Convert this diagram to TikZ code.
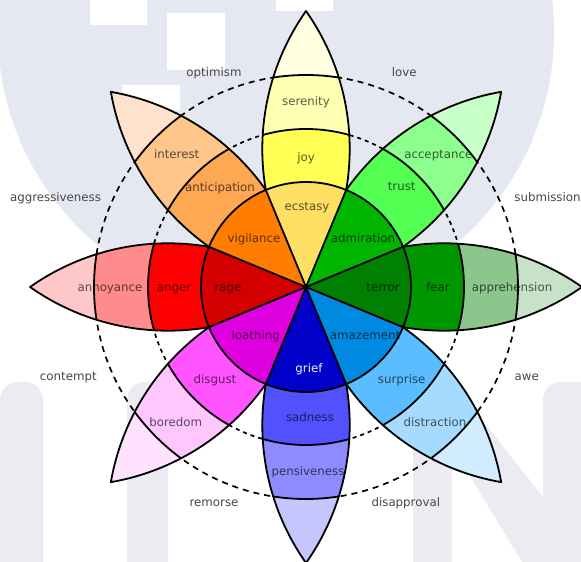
\documentclass[tikz,border=0pt]{standalone}
\usepackage{fontspec}
\setmainfont{DejaVu Sans}
\definecolor{wm}{RGB}{229,232,240}
\definecolor{wml}{RGB}{234,236,242}
% yellow
\definecolor{yA}{RGB}{255,224,100}\definecolor{yB}{RGB}{255,255,84}\definecolor{yC}{RGB}{255,255,177}\definecolor{yD}{RGB}{255,255,225}
% green
\definecolor{gA}{RGB}{0,180,0}\definecolor{gB}{RGB}{84,255,84}\definecolor{gC}{RGB}{140,255,140}\definecolor{gD}{RGB}{200,255,200}
% dark green
\definecolor{dA}{RGB}{0,128,0}\definecolor{dB}{RGB}{0,150,0}\definecolor{dC}{RGB}{140,198,140}\definecolor{dD}{RGB}{200,226,200}
% light blue
\definecolor{lA}{RGB}{0,137,224}\definecolor{lB}{RGB}{89,189,255}\definecolor{lC}{RGB}{165,219,255}\definecolor{lD}{RGB}{210,236,255}
% blue
\definecolor{bA}{RGB}{0,0,200}\definecolor{bB}{RGB}{81,81,255}\definecolor{bC}{RGB}{140,140,255}\definecolor{bD}{RGB}{198,198,255}
% purple
\definecolor{pA}{RGB}{222,0,222}\definecolor{pB}{RGB}{255,84,255}\definecolor{pC}{RGB}{255,198,255}\definecolor{pD}{RGB}{255,226,255}
% red
\definecolor{rA}{RGB}{212,0,0}\definecolor{rB}{RGB}{255,0,0}\definecolor{rC}{RGB}{255,140,140}\definecolor{rD}{RGB}{255,200,200}
% orange
\definecolor{oA}{RGB}{255,125,0}\definecolor{oB}{RGB}{255,168,84}\definecolor{oC}{RGB}{255,198,140}\definecolor{oD}{RGB}{255,226,205}

\newcommand\petal[4]{% angle, ring2, ring3, tip
 \begin{scope}[rotate=#1]
  \clip (0,0) arc[start angle=125.15,end angle=54.85,radius=239.68]
        arc[start angle=-54.85,end angle=-125.15,radius=239.68] -- cycle;
  \fill[#4] (0,0) circle[radius=300];
  \fill[#3] (0,0) circle[radius=212];
  \fill[#2] (0,0) circle[radius=158];
  \draw[edge] (0,0) circle[radius=212] (0,0) circle[radius=158];
 \end{scope}}
\newcommand\sector[2]{%
 \fill[#2] (0,0) -- (#1-22.5:105) arc[start angle=#1-22.5,end angle=#1+22.5,radius=105] -- cycle;}
\newcommand\petaledge[1]{%
 \begin{scope}[rotate=#1]
  \draw[edge] (22.5:105) arc[start angle=99.85,end angle=54.85,radius=239.68]
        arc[start angle=-54.85,end angle=-99.85,radius=239.68];
 \end{scope}}

\begin{document}
\begin{tikzpicture}[x=1pt,y=1pt,
  edge/.style={line width=1.8pt,black,line join=round},
  lab/.style={inner sep=0pt,anchor=base,yshift=-3.4pt,text=black,text opacity=0.64,
              font=\fontsize{11.8}{13}\selectfont},
  outer/.style={inner sep=0pt,anchor=base,yshift=-3.4pt,text=black!72,
              font=\fontsize{11.8}{13}\selectfont},
  dashO/.style={line width=1.7pt,dash pattern=on 6pt off 5pt},
  dashI/.style={line width=1.7pt,dash pattern=on 4pt off 4pt}]
\useasboundingbox (0,0) rectangle (581,562);
\fill[white] (0,0) rectangle (581,562);
% faint background (pixel coordinates, y downwards)
\begin{scope}[y=-1pt,yshift=562pt]
  \fill[wm] (276,32) circle[radius=278];
  \fill[white] (90,0) rectangle (147,25) (167,13) rectangle (225,70)
               (122,85) rectangle (180,110) (276,0) rectangle (333,11);
  \fill[wml,rounded corners=18pt] (0,382) rectangle (43,600);
  \fill[wml,rounded corners=18pt] (127,382) rectangle (168,600);
  \fill[wml] (413,382) rectangle (452,600);
  \fill[wml] (413,382) -- (452,382) -- (581,545) -- (581,600) -- (545,600) -- cycle;
  \fill[wml,rounded corners=18pt] (543,382) rectangle (600,600);
\end{scope}
\begin{scope}[shift={(306,275)}]
  \coordinate (c) at (0,0);
  \draw[dashO] (c) circle[radius=212];
  \draw[dashI] (c) circle[radius=158];
  \petal{90}{yB}{yC}{yD}
  \petal{45}{gB}{gC}{gD}
  \petal{0}{dB}{dC}{dD}
  \petal{-45}{lB}{lC}{lD}
  \petal{-90}{bB}{bC}{bD}
  \petal{-135}{pB}{pC}{pD}
  \petal{180}{rB}{rC}{rD}
  \petal{135}{oB}{oC}{oD}
  \sector{90}{yA}\sector{45}{gA}\sector{0}{dA}\sector{-45}{lA}
  \sector{-90}{bA}\sector{-135}{pA}\sector{180}{rA}\sector{135}{oA}
  \foreach \a in {90,45,0,-45,-90,-135,180,135} {\petaledge{\a}}
  \draw[edge] (c) circle[radius=105];
  \foreach \a in {22.5,67.5,...,337.5} {\draw[edge] (c) -- (\a:105);}
\end{scope}
% labels (pixel coordinates)
\begin{scope}[y=-1pt,yshift=562pt]
  \node[lab] (serenity) at (306,101.7) {serenity};
  \node[lab] (joy) at (306,158) {joy};
  \node[lab] (ecstasy) at (307,207.3) {ecstasy};
  \node[lab] (acceptance) at (438.3,155) {acceptance};
  \node[lab] (trust) at (401.7,187.3) {trust};
  \node[lab] (admiration) at (363,239.5) {admiration};
  \node[lab] (apprehension) at (512,287.7) {apprehension};
  \node[lab] (fear) at (438,287.7) {fear};
  \node[lab] (terror) at (383,287.7) {terror};
  \node[lab] (distraction) at (435,423.3) {distraction};
  \node[lab] (surprise) at (401.7,380) {surprise};
  \node[lab] (amazement) at (365,336) {amazement};
  \node[lab] (pensiveness) at (308,472) {pensiveness};
  \node[lab] (sadness) at (310,418) {sadness};
  \node[lab,text=white,text opacity=0.95] (grief) at (309,369.5) {grief};
  \node[lab] (boredom) at (175.7,422.7) {boredom};
  \node[lab] (disgust) at (215,380) {disgust};
  \node[lab] (loathing) at (255.7,335.7) {loathing};
  \node[lab] (annoyance) at (110,288.3) {annoyance};
  \node[lab] (anger) at (174,288.3) {anger};
  \node[lab] (rage) at (228,288.3) {rage};
  \node[lab] (interest) at (176.7,155) {interest};
  \node[lab] (anticipation) at (220,187.7) {anticipation};
  \node[lab] (vigilance) at (254,239.3) {vigilance};
  \node[outer] (optimism) at (214,73.3) {optimism};
  \node[outer] (love) at (404.3,73.3) {love};
  \node[outer] (aggressiveness) at (55.5,198.3) {aggressiveness};
  \node[outer] (submission) at (547.5,198.3) {submission};
  \node[outer] (contempt) at (68.3,376.7) {contempt};
  \node[outer] (awe) at (526.7,376.7) {awe};
  \node[outer] (remorse) at (214,503.3) {remorse};
  \node[outer] (disapproval) at (405.8,503.3) {disapproval};
\end{scope}
\end{tikzpicture}
\end{document}
